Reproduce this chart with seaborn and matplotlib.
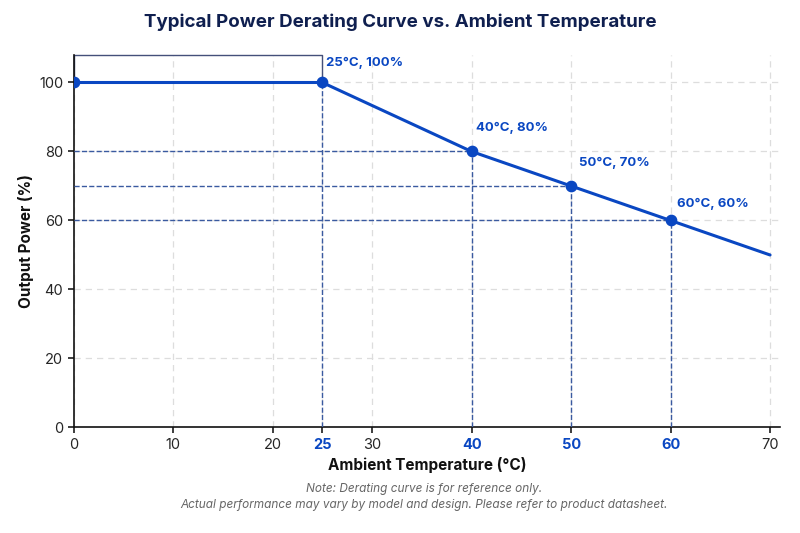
import matplotlib
matplotlib.use("Agg")
import matplotlib.pyplot as plt
import seaborn as sns
import pandas as pd

temps = [0, 25, 40, 50, 60, 70]
power = [100, 100, 80, 70, 60, 50]
marked_t = [0, 25, 40, 50, 60]
marked_p = [100, 100, 80, 70, 60]
labels = ["25°C, 100%", "40°C, 80%", "50°C, 70%", "60°C, 60%"]
xticks = [0, 10, 20, 25, 30, 40, 50, 60, 70]
highlight = [25, 40, 50, 60]

BLUE = "#0a47c2"
GUIDE = "#3a5aa0"

sns.set_theme(style="white")
plt.rcParams['font.family'] = ['Inter', 'DejaVu Sans']

fig, ax = plt.subplots(figsize=(8, 5.33), dpi=100)
fig.subplots_adjust(left=0.092, right=0.975, top=0.897, bottom=0.198)

ax.set_xlim(0, 71)
ax.set_ylim(0, 108)
ax.grid(True, color="#dddddd", linestyle=(0, (5, 4)), linewidth=0.9)
ax.set_axisbelow(True)

df = pd.DataFrame({"t": temps, "p": power})
sns.lineplot(data=df, x="t", y="p", color=BLUE, linewidth=2.2, ax=ax)
ax.scatter(marked_t, marked_p, s=55, color=BLUE, zorder=5)

# guide lines
for t, p in zip(marked_t[1:], marked_p[1:]):
    ax.plot([t, t], [0, p], color=GUIDE, linestyle="--", linewidth=1, zorder=3)
    if p < 100:
        ax.plot([0, t], [p, p], color=GUIDE, linestyle="--", linewidth=1, zorder=3)
# top box around flat region
ax.plot([0, 0, 25, 25], [100, 108, 108, 100], color="#44507a", linewidth=1, clip_on=False, zorder=2)

offsets = [(0.4, 4), (0.4, 5), (0.8, 5), (0.6, 3)]
for (t, p), lab, (dx, dy) in zip(zip(marked_t[1:], marked_p[1:]), labels, offsets):
    ax.text(t + dx, p + dy, lab, color=BLUE, fontsize=9.5, fontweight="bold", ha="left", va="bottom")

ax.set_xticks(xticks)
ax.set_yticks([0, 20, 40, 60, 80, 100])
ax.tick_params(labelsize=10.5, length=4, left=True, bottom=True)
for lab in ax.get_xticklabels():
    if int(lab.get_text().replace("−", "-")) in highlight:
        lab.set_color(BLUE)
        lab.set_fontweight("bold")

for s in ["top", "right"]:
    ax.spines[s].set_visible(False)
for s in ["left", "bottom"]:
    ax.spines[s].set_color("#111111")
    ax.spines[s].set_linewidth(1.2)

ax.set_xlabel("Ambient Temperature (°C)", fontsize=11, fontweight="bold", color="#111111")
ax.set_ylabel("Output Power (%)", fontsize=11, fontweight="bold", color="#111111")
fig.suptitle("Typical Power Derating Curve vs. Ambient Temperature", fontsize=13.5,
             fontweight="bold", color="#0f1f4f", y=0.975)
fig.text(0.53, 0.068, "Note: Derating curve is for reference only.\nActual performance may vary by model and design. Please refer to product datasheet.",
         ha="center", va="center", fontsize=8.5, style="italic", color="#666666", linespacing=1.5)

fig.savefig("out.png", dpi=100)
